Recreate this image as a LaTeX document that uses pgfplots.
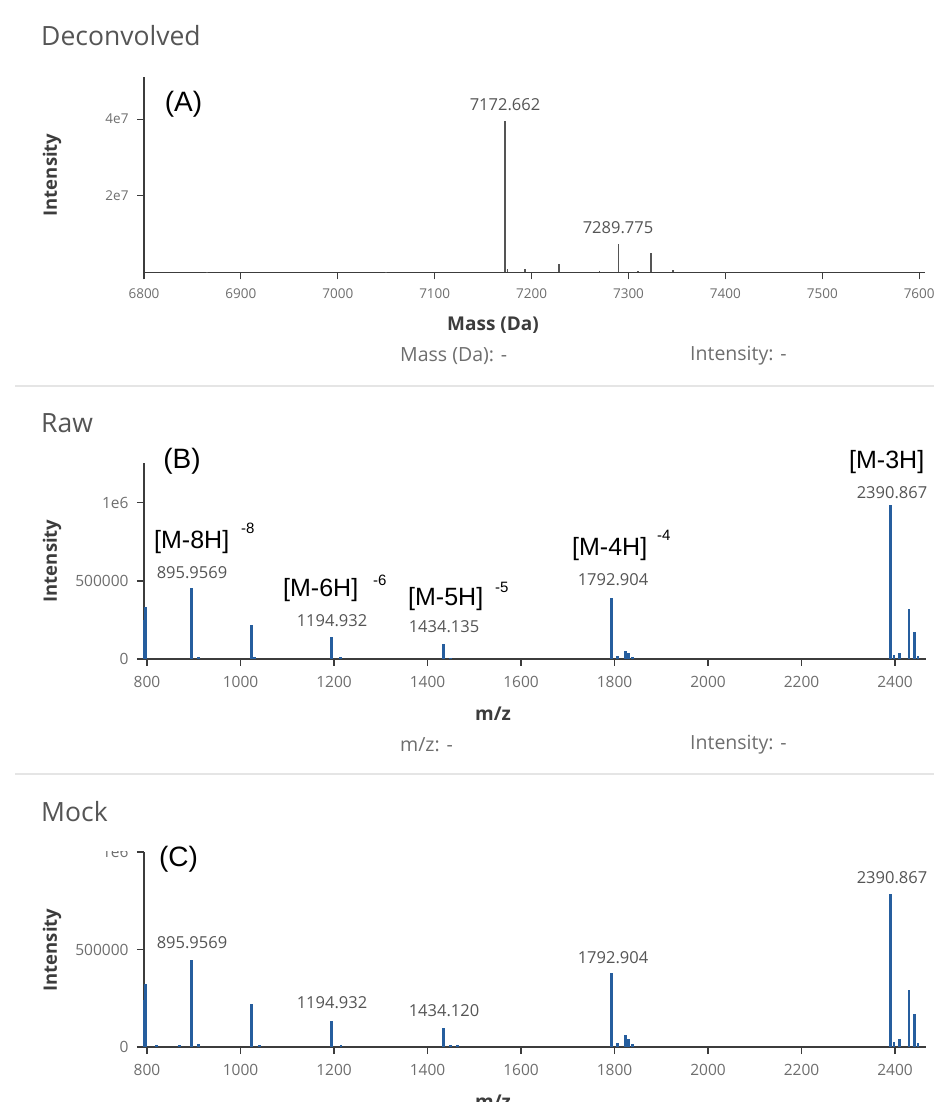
\documentclass[border=0pt]{standalone}
\usepackage{fontspec}
\setmainfont{Open Sans}
\newfontfamily\arial{Liberation Sans}
\usepackage{pgfplots}
\pgfplotsset{compat=1.18}
\definecolor{spec}{RGB}{38,94,158}
\definecolor{axgray}{RGB}{60,60,60}
\definecolor{tickgray}{RGB}{110,110,110}
\definecolor{txtgray}{RGB}{85,85,85}

\pgfplotsset{
  panel/.style={
    scale only axis, width=782pt,
    axis x line=bottom, axis y line=left,
    axis line style={-, color=axgray, line width=1.3pt},
    tick align=outside, major tick length=7pt,
    tick style={color=axgray, line width=1.1pt},
    ticklabel style={font=\fontsize{15.5}{15.5}\selectfont, text=tickgray},
    xticklabel style={yshift=-7pt},
    yticklabel style={xshift=-5pt},
    /pgf/number format/assume math mode=true,
    scaled ticks=false, ymin=0, clip=false,
  },
  mz/.style={panel, xmin=793.6, xmax=2466.3,
    xtick={800,1000,...,2400},
    xticklabels={800,1000,1200,1400,1600,1800,2000,2200,2400},
    ytick={0,500000,1000000}, yticklabels={0,500000,1e6}},
  peaks/.style={ycomb, no marks, line width=2.8pt, color=spec},
}
\newcommand{\peaklab}[3]{\node[font=\fontsize{16.5}{16.5}\selectfont, text=txtgray] at (#1,#2) {#3};}
\newcommand{\ann}[3]{\node[anchor=west, font=\arial\fontsize{25}{25}\selectfont, inner sep=0pt] at (#1,#2) {#3};}
\newcommand{\chg}[3]{\node[anchor=west, font=\arial\fontsize{15}{15}\selectfont, inner sep=0pt] at (#1,#2) {#3};}

\begin{document}
\begin{tikzpicture}[x=1pt,y=1pt]

% ---------- (A) Deconvolved ----------
\begin{axis}[panel, at={(144pt,829.5pt)}, anchor=south west, height=195.5pt, width=781pt,
  xmin=6800, xmax=7606, ymax=5.1e7,
  ticklabel style={font=\fontsize{13.5}{13.5}\selectfont},
  xticklabel style={yshift=1pt},
  xtick={6800,6900,...,7600},
  xticklabels={6800,6900,7000,7100,7200,7300,7400,7500,7600},
  ytick={2e7,4e7}, yticklabels={2e7,4e7}]
\addplot[ycomb, no marks, line width=1.6pt, color=txtgray] coordinates {
  (6865,2e5) (7050,2e5) (7172.662,3.95e7) (7175,8e5) (7193,8e5)
  (7228,2.3e6) (7270,4e5) (7289.775,7.5e6) (7310,3e5) (7323,5.2e6)
  (7346,6e5) (7400,2e5)
};
\end{axis}

% ---------- (B) Raw ----------
\begin{axis}[mz, at={(144pt,443pt)}, anchor=south west, height=196pt, ymax=1.256e6]
\addplot[peaks] coordinates {
  (794,2.5e5) (796,3.3e5) (895.9569,4.53e5) (910,1.5e4) (1023.7,2.19e5) (1030,1e4)
  (1194.932,1.38e5) (1214,1e4) (1434.135,0.97e5) (1450,8e3)
  (1792.904,3.94e5) (1807,2e4) (1824,5.4e4) (1830,4e4) (1838,1.5e4)
  (2390.867,9.87e5) (2398,2.5e4) (2410,3.9e4) (2430,3.18e5) (2441,1.7e5) (2449,2e4)
};
\end{axis}

% ---------- (C) Mock ----------
\begin{axis}[mz, at={(144pt,55pt)}, anchor=south west, height=195pt, ymax=1e6]
\addplot[peaks] coordinates {
  (794,2.4e5) (796,3.23e5) (820,1e4) (870,8e3) (895.9569,4.45e5) (910,1.5e4)
  (1023.7,2.19e5) (1040,1.2e4) (1194.932,1.35e5) (1215,1e4)
  (1434.120,0.99e5) (1450,1.2e4) (1465,8e3)
  (1792.904,3.78e5) (1807,2e4) (1824,6e4) (1830,4e4) (1838,1.5e4)
  (2390.867,7.83e5) (2398,2.5e4) (2410,4e4) (2430,2.92e5) (2441,1.69e5) (2449,2e4)
};
\end{axis}
% the top tick label of (C) is cut in the reference
\fill[white] (88,251) rectangle (138,268);

% ---------- titles, separators ----------
\begin{scope}[every node/.style={text=txtgray, font=\fontsize{26.5}{26.5}\selectfont, anchor=base west, inner sep=0pt}]
\node at (41,1056) {Deconvolved};
\node at (41,669) {Raw};
\node at (41,280) {Mock};
\end{scope}
\draw[black!10, line width=2pt] (15,716) -- (934,716);
\draw[black!10, line width=2pt] (15,328) -- (934,328);

% axis titles
\begin{scope}[every node/.style={text=axgray, font=\bfseries\fontsize{19}{19}\selectfont}]
\node at (493,777) {Mass (Da)};
\node at (493,388) {m/z};
\node at (493,0) {m/z};
\node[rotate=90, font=\bfseries\fontsize{18.5}{18.5}\selectfont] at (52,927) {Intensity};
\node[rotate=90, font=\bfseries\fontsize{18.5}{18.5}\selectfont] at (52,541) {Intensity};
\node[rotate=90, font=\bfseries\fontsize{18.5}{18.5}\selectfont] at (52,152) {Intensity};
\end{scope}

% hover read-outs
\begin{scope}[every node/.style={text=tickgray, font=\fontsize{19.5}{19.5}\selectfont, anchor=west, inner sep=0pt}]
\node at (400,746) {Mass (Da): -};
\node at (690,746) {Intensity: -};
\node at (400,357) {m/z: -};
\node at (690,357) {Intensity: -};
\end{scope}

% peak labels
\peaklab{505}{997}{7172.662}
\peaklab{618}{874}{7289.775}
\peaklab{192}{529}{895.9569}
\peaklab{332}{481}{1194.932}
\peaklab{444}{475}{1434.135}
\peaklab{613}{522}{1792.904}
\peaklab{892}{609}{2390.867}
\peaklab{192}{159}{895.9569}
\peaklab{332}{99}{1194.932}
\peaklab{444}{91}{1434.120}
\peaklab{613}{144}{1792.904}
\peaklab{892}{224}{2390.867}

% annotations
\node[font=\arial\fontsize{28}{28}\selectfont] at (183.5,997.5) {(A)};
\node[font=\arial\fontsize{28}{28}\selectfont] at (182,640.5) {(B)};
\node[font=\arial\fontsize{28}{28}\selectfont] at (178.5,243) {(C)};
\ann{154}{560}{[M-8H]} \chg{241}{574}{-8}
\ann{283}{512}{[M-6H]} \chg{373}{522}{-6}
\ann{408}{503}{[M-5H]} \chg{495}{515}{-5}
\ann{572}{553}{[M-4H]} \chg{657}{567}{-4}
\ann{849}{640}{[M-3H]}

\pgfresetboundingbox
\path[use as bounding box] (0,0) rectangle (934,1102);
\end{tikzpicture}
\end{document}
